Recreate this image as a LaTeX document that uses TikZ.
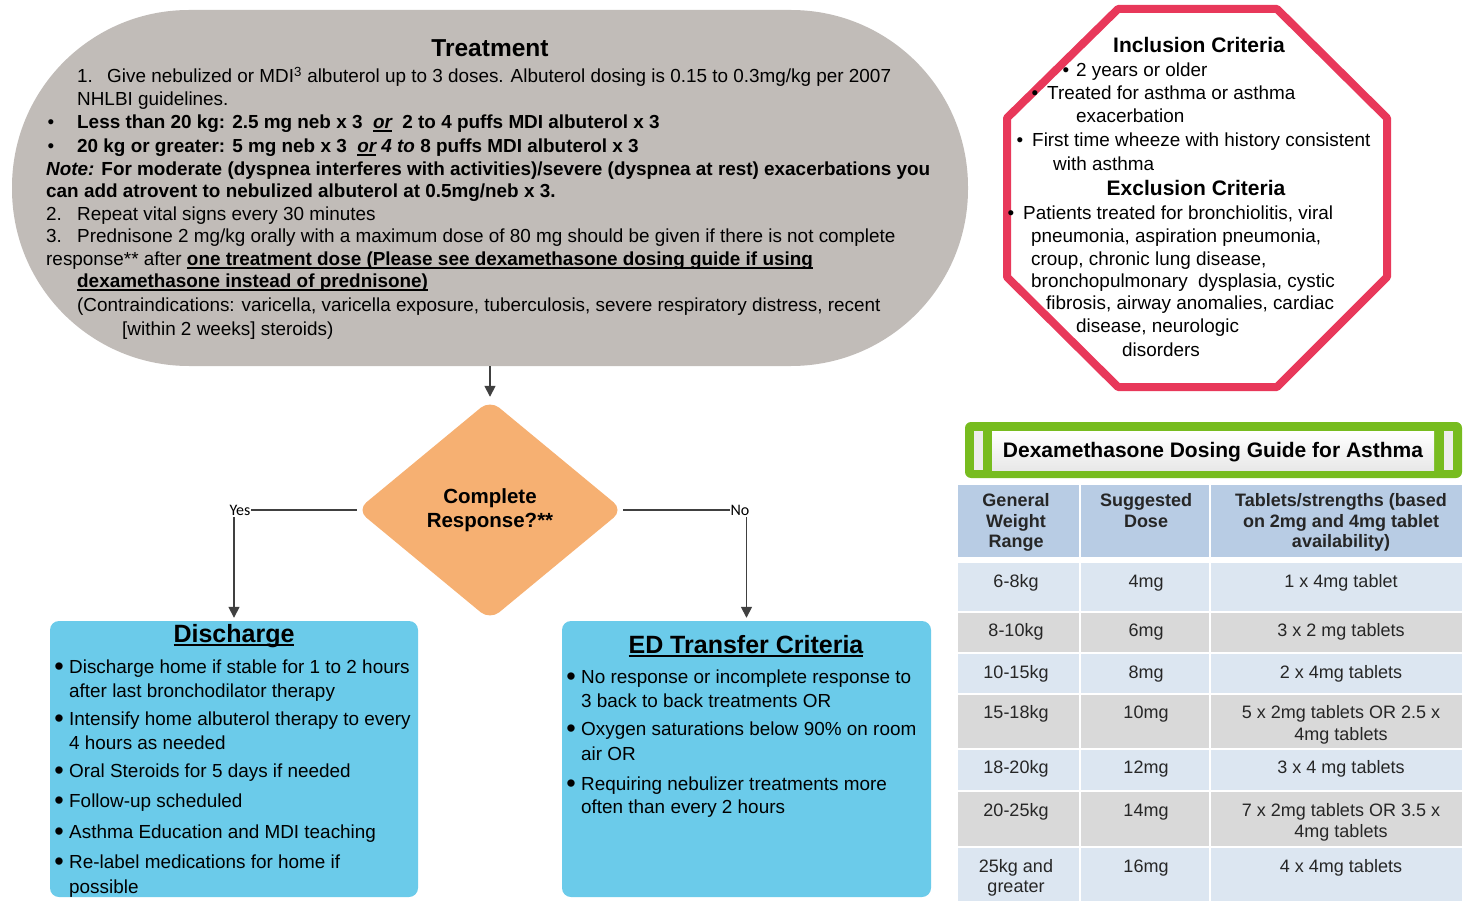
\documentclass[tikz,border=0pt]{standalone}
\usepackage{fontspec}
\setmainfont{Liberation Sans}
\newfontfamily\carlitofont{Carlito}
\usetikzlibrary{arrows.meta,shapes.geometric}
\definecolor{treatgray}{RGB}{193,188,184}
\definecolor{dorange}{RGB}{246,176,114}
\definecolor{boxblue}{RGB}{107,203,234}
\definecolor{octred}{RGB}{232,56,90}
\definecolor{dgreen}{RGB}{119,188,31}
\definecolor{hdrblue}{RGB}{184,204,228}
\definecolor{rowblue}{RGB}{220,230,241}
\definecolor{rowgray}{RGB}{217,217,217}
\definecolor{arrowgray}{RGB}{64,64,64}
\definecolor{tabtext}{RGB}{38,38,38}
\newcommand\myul[3]{\setbox0=\hbox{#3}\leavevmode\rlap{\rule[-#2]{\wd0}{#1}}\box0\relax}
\begin{document}
\begin{tikzpicture}[x=1pt,y=-1pt,
  tx/.style={anchor=base west,inner sep=0pt,font=\fontsize{18.9}{22}\selectfont},
  tb/.style={anchor=base west,inner sep=0pt,font=\fontsize{18.9}{22}\selectfont\bfseries},
  bul/.style={anchor=base,inner sep=0pt,font=\fontsize{18.9}{22}\selectfont},
  bigbul/.style={anchor=base,inner sep=0pt,font=\fontsize{27}{27}\selectfont},
  hd/.style={anchor=base,inner sep=0pt,font=\fontsize{25}{28}\selectfont\bfseries},
  oh/.style={anchor=base,inner sep=0pt,font=\fontsize{21}{24}\selectfont\bfseries},
  th/.style={anchor=base,inner sep=0pt,font=\fontsize{18}{21}\selectfont\bfseries,text=tabtext},
  tt/.style={anchor=base,inner sep=0pt,font=\fontsize{18}{21}\selectfont,text=tabtext},
  lbl/.style={inner sep=0pt,font=\carlitofont\fontsize{16}{18}\selectfont},
  bluebox/.style={fill=boxblue,rounded corners=9pt,minimum width=368pt,minimum height=276pt,inner sep=0pt},
  arr/.style={draw=arrowgray,line width=1.6pt,-{Triangle[length=11pt,width=11pt]}},
  conn/.style={draw=arrowgray,line width=1.6pt}]
\useasboundingbox (0,0) rectangle (1470,901);

% ---------- Treatment ----------
\node[fill=treatgray,rounded corners=177pt,minimum width=956pt,minimum height=356pt,inner sep=0pt] (treat) at (490,188) {};
\node[hd,font=\fontsize{24.5}{28}\selectfont\bfseries] (ttl) at (490,57) {Treatment};
\node[tx] (t1n) at (77,83) {1.};
\node[tx] (t1) at (107,83) {Give nebulized or MDI\textsuperscript{3} albuterol up to 3 doses. Albuterol dosing is 0.15 to 0.3mg/kg per 2007};
\node[tx] (t1b) at (77,106) {NHLBI guidelines.};
\node[bul] (b1) at (51,129) {•};
\node[tb] (t2) at (77,129) {Less than 20 kg: 2.5 mg neb x 3\ \ \myul{1.5pt}{3pt}{\itshape or}\ \ 2 to 4 puffs MDI albuterol x 3};
\node[bul] (b2) at (51,153) {•};
\node[tb] (t3) at (77,153) {20 kg or greater: 5 mg neb x 3\ \ \myul{1.5pt}{3pt}{\itshape or}\ \textit{4 to} 8 puffs MDI albuterol x 3};
\node[tb] (t4) at (46,176) {\textit{Note:} For moderate (dyspnea interferes with activities)/severe (dyspnea at rest) exacerbations you};
\node[tb] (t5) at (46,198) {can add atrovent to nebulized albuterol at 0.5mg/neb x 3.};
\node[tx] (t6n) at (46,221) {2.};
\node[tx] (t6) at (77,221) {Repeat vital signs every 30 minutes};
\node[tx] (t7n) at (46,243) {3.};
\node[tx] (t7) at (77,243) {Prednisone 2 mg/kg orally with a maximum dose of 80 mg should be given if there is not complete};
\node[tx] (t8) at (46,266) {response** after \textbf{\myul{1.5pt}{3pt}{one treatment dose (Please see dexamethasone dosing guide if using}}};
\node[tx] (t9) at (77,288) {\textbf{\myul{1.5pt}{3pt}{dexamethasone instead of prednisone)}}};
\node[tx] (t10) at (77,312) {(Contraindications: varicella, varicella exposure, tuberculosis, severe respiratory distress, recent};
\node[tx] (t11) at (122,335) {[within 2 weeks] steroids)};

% ---------- Decision ----------
\node[diamond,fill=dorange,rounded corners=12pt,minimum width=266pt,minimum height=220pt,inner sep=0pt,
      align=center,font=\fontsize{20.5}{24}\selectfont\bfseries] (dec) at (490,510) {Complete\\Response?**};
\draw[arr,shorten >=3pt] (treat.south) -- (dec.north);

\node[lbl] (yes) at (240,510) {Yes};
\node[lbl] (no) at (740,510) {No};

% ---------- Discharge ----------
\node[bluebox] (dis) at (234,759) {};
\node[hd] (dist) at (234,642) {\myul{2pt}{3.5pt}{Discharge}};
\node[bigbul] (d1b) at (59,675) {•};
\node[tx] (d1) at (69,673) {Discharge home if stable for 1 to 2 hours};
\node[tx] (d1c) at (69,697) {after last bronchodilator therapy};
\node[bigbul] (d2b) at (59,727) {•};
\node[tx] (d2) at (69,725) {Intensify home albuterol therapy to every};
\node[tx] (d2c) at (69,749) {4 hours as needed};
\node[bigbul] (d3b) at (59,779) {•};
\node[tx] (d3) at (69,777) {Oral Steroids for 5 days if needed};
\node[bigbul] (d4b) at (59,809) {•};
\node[tx] (d4) at (69,807) {Follow-up scheduled};
\node[bigbul] (d5b) at (59,840) {•};
\node[tx] (d5) at (69,838) {Asthma Education and MDI teaching};
\node[bigbul] (d6b) at (59,870) {•};
\node[tx] (d6) at (69,868) {Re-label medications for home if};
\node[tx] (d6c) at (69,893) {possible};

% ---------- ED transfer ----------
\node[bluebox,minimum width=369pt] (ed) at (746.5,759) {};
\node[hd] (edt) at (746,653) {\myul{2pt}{3.5pt}{ED Transfer Criteria}};
\node[bigbul] (e1b) at (571,685) {•};
\node[tx] (e1) at (581,683) {No response or incomplete response to};
\node[tx] (e1c) at (581,707) {3 back to back treatments OR};
\node[bigbul] (e2b) at (571,737) {•};
\node[tx] (e2) at (581,735) {Oxygen saturations below 90\% on room};
\node[tx] (e2c) at (581,760) {air OR};
\node[bigbul] (e3b) at (571,792) {•};
\node[tx] (e3) at (581,790) {Requiring nebulizer treatments more};
\node[tx] (e3c) at (581,813) {often than every 2 hours};

% connectors
\draw[conn] (dec.west) -- (yes.east);
\draw[arr,shorten >=3pt] (yes.south -| dis.north) ++(0,2) -- (dis.north);
\draw[conn] (dec.east) -- (no.west);
\draw[arr,shorten >=3pt] (no.south -| ed.north) ++(0,2) -- (ed.north);

% ---------- Octagon ----------
\draw[octred,line width=8pt,line join=round,fill=white]
  (1118,9) -- (1277,9) -- (1387,118) -- (1387,277) -- (1277,387) -- (1118,387) -- (1007,277) -- (1007,118) -- cycle;
\node[oh] (inc) at (1199,53) {Inclusion Criteria};
\node[bul] (i1b) at (1066,77) {•};
\node[tx] (i1) at (1076,77) {2 years or older};
\node[bul] (i2b) at (1035,100) {•};
\node[tx] (i2) at (1047,100) {Treated for asthma or asthma};
\node[tx] (i2c) at (1076,123) {exacerbation};
\node[bul] (i3b) at (1020,147) {•};
\node[tx] (i3) at (1032,147) {First time wheeze with history consistent};
\node[tx] (i3c) at (1053,171) {with asthma};
\node[oh] (exc) at (1196,196) {Exclusion Criteria};
\node[bul] (x1b) at (1011,220) {•};
\node[tx] (x1) at (1023,220) {Patients treated for bronchiolitis, viral};
\node[tx] (x2) at (1031,243) {pneumonia, aspiration pneumonia,};
\node[tx] (x3) at (1031,266) {croup, chronic lung disease,};
\node[tx] (x4) at (1031,288) {bronchopulmonary\ \ dysplasia, cystic};
\node[tx] (x5) at (1046,310) {fibrosis, airway anomalies, cardiac};
\node[tx] (x6) at (1076,333) {disease, neurologic};
\node[tx] (x7) at (1122,356) {disorders};

% ---------- Dosing guide header ----------
\node[fill=dgreen,rounded corners=6pt,minimum width=497pt,minimum height=56pt,inner sep=0pt] (hdr) at (1213.5,450) {};
\fill[white!93!black] (974,431) rectangle (983,470);
\fill[white!93!black] (1444,431) rectangle (1453,470);
\shade[top color=white,bottom color=white!91!black] (992,431) rectangle (1434,470);
\node[oh] (hdrt) at (1213,457) {Dexamethasone Dosing Guide for Asthma};

% ---------- Table ----------
\fill[hdrblue] (958,485) rectangle (1462,557);
\fill[rowblue] (958,563) rectangle (1462,611);
\fill[rowgray] (958,613) rectangle (1462,652);
\fill[rowblue] (958,654) rectangle (1462,693);
\fill[rowgray] (958,695) rectangle (1462,748);
\fill[rowblue] (958,750) rectangle (1462,790);
\fill[rowgray] (958,792) rectangle (1462,846);
\fill[rowblue] (958,848) rectangle (1462,901);
\draw[white,line width=2pt] (1080,485) -- (1080,901);
\draw[white,line width=2pt] (1210,485) -- (1210,901);

\node[th] (h1a) at (1016,506) {General};
\node[th] (h1b) at (1016,527) {Weight};
\node[th] (h1c) at (1016,547) {Range};
\node[th] (h2a) at (1146,506) {Suggested};
\node[th] (h2b) at (1146,527) {Dose};
\node[th] (h3a) at (1341,506) {Tablets/strengths (based};
\node[th] (h3b) at (1341,527) {on 2mg and 4mg tablet};
\node[th] (h3c) at (1341,547) {availability)};

\node[tt] (r1a) at (1016,587) {6-8kg};
\node[tt] (r1b) at (1146,587) {4mg};
\node[tt] (r1c) at (1341,587) {1 x 4mg tablet};
\node[tt] (r2a) at (1016,636) {8-10kg};
\node[tt] (r2b) at (1146,636) {6mg};
\node[tt] (r2c) at (1341,636) {3 x 2 mg tablets};
\node[tt] (r3a) at (1016,678) {10-15kg};
\node[tt] (r3b) at (1146,678) {8mg};
\node[tt] (r3c) at (1341,678) {2 x 4mg tablets};
\node[tt] (r4a) at (1016,718) {15-18kg};
\node[tt] (r4b) at (1146,718) {10mg};
\node[tt] (r4c) at (1341,718) {5 x 2mg tablets OR 2.5 x};
\node[tt] (r4d) at (1341,740) {4mg tablets};
\node[tt] (r5a) at (1016,773) {18-20kg};
\node[tt] (r5b) at (1146,773) {12mg};
\node[tt] (r5c) at (1341,773) {3 x 4 mg tablets};
\node[tt] (r6a) at (1016,816) {20-25kg};
\node[tt] (r6b) at (1146,816) {14mg};
\node[tt] (r6c) at (1341,816) {7 x 2mg tablets OR 3.5 x};
\node[tt] (r6d) at (1341,837) {4mg tablets};
\node[tt] (r7a) at (1016,872) {25kg and};
\node[tt] (r7c) at (1016,892) {greater};
\node[tt] (r7b) at (1146,872) {16mg};
\node[tt] (r7d) at (1341,872) {4 x 4mg tablets};
\end{tikzpicture}
\end{document}
